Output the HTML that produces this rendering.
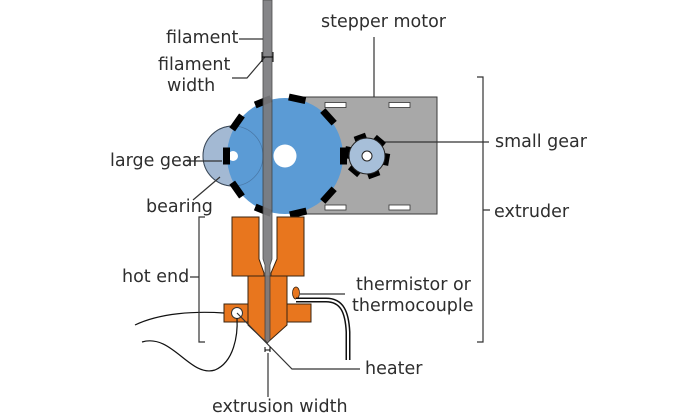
<!DOCTYPE html>
<html><head><meta charset="utf-8"><style>
html,body{margin:0;padding:0;background:#fff;}
svg{display:block;}
text{font-family:"DejaVu Sans","Liberation Sans",sans-serif;font-size:17.5px;fill:#2e2e2e;}
</style></head><body>
<svg width="700" height="420" viewBox="0 0 700 420" xmlns="http://www.w3.org/2000/svg">
<!-- motor -->
<rect x="300" y="97" width="137" height="117" fill="#a8a8a8" stroke="#3a3a3a" stroke-width="1"/>
<g fill="#fff" stroke="#333" stroke-width="0.8">
<rect x="325" y="102.5" width="21" height="5"/>
<rect x="389" y="102.5" width="21" height="5"/>
<rect x="325" y="205" width="21" height="5"/>
<rect x="389" y="205" width="21" height="5"/>
</g>
<!-- small gear -->
<g fill="#000">
<rect x="382" y="150" width="7.5" height="12" transform="rotate(-50 367 156)"/>
<rect x="382" y="150" width="7.5" height="12" transform="rotate(10 367 156)"/>
<rect x="382" y="150" width="7.5" height="12" transform="rotate(70 367 156)"/>
<rect x="382" y="150" width="7.5" height="12" transform="rotate(130 367 156)"/>
<rect x="382" y="150" width="7.5" height="12" transform="rotate(190 367 156)"/>
<rect x="382" y="150" width="7.5" height="12" transform="rotate(250 367 156)"/>
</g>
<circle cx="367" cy="156" r="18" fill="#a7bfd9" stroke="#222" stroke-width="1"/>
<circle cx="367" cy="156" r="5" fill="#fff" stroke="#222" stroke-width="1"/>
<!-- bearing -->
<circle cx="233" cy="156" r="30" fill="#a3b9d3" stroke="#333" stroke-width="1"/>
<!-- big gear -->
<circle cx="285" cy="156" r="58" fill="#5b9bd5"/>
<circle cx="233" cy="156" r="30" fill="none" stroke="#3d5f85" stroke-width="0.7" opacity="0.6"/>
<circle cx="285" cy="156" r="11.5" fill="#fff"/>
<circle cx="233" cy="156" r="5" fill="#fff"/>
<g fill="#000">
<rect x="340" y="147.5" width="7" height="17" transform="rotate(-112 285 156)"/>
<rect x="340" y="147.5" width="7" height="17" transform="rotate(-78 285 156)"/>
<rect x="340" y="147.5" width="7" height="17" transform="rotate(-42 285 156)"/>
<rect x="340" y="147.5" width="7" height="17" transform="rotate(0 285 156)"/>
<rect x="340" y="147.5" width="7" height="17" transform="rotate(42 285 156)"/>
<rect x="340" y="147.5" width="7" height="17" transform="rotate(77 285 156)"/>
<rect x="340" y="147.5" width="7" height="17" transform="rotate(112 285 156)"/>
<rect x="340" y="147.5" width="7" height="17" transform="rotate(145 285 156)"/>
<rect x="340" y="147.5" width="7" height="17" transform="rotate(180 285 156)"/>
<rect x="340" y="147.5" width="7" height="17" transform="rotate(215 285 156)"/>
</g>
<!-- hot end -->
<rect x="224" y="304" width="87" height="18" fill="#e8761e" stroke="#3a2410" stroke-width="1"/>
<circle cx="237" cy="313" r="5.5" fill="#fff" stroke="#333" stroke-width="1"/>
<polygon points="248,276 287,276 287,325 267,343 248,325" fill="#e8761e" stroke="#3a2410" stroke-width="1"/>
<polygon points="232,217 259,217 259,259 264,273 264,276 232,276" fill="#e8761e" stroke="#3a2410" stroke-width="1"/>
<polygon points="277,217 304,217 304,276 271,276 271,273 277,259" fill="#e8761e" stroke="#3a2410" stroke-width="1"/>
<ellipse cx="296" cy="293" rx="3.5" ry="6" fill="#e8761e" stroke="#3a2410" stroke-width="0.8"/>
<!-- filament rod -->
<path d="M263,0 V259 L265,265 V340 L267.5,343 L270,340 V265 L272,259 V0 Z" fill="#7b7b7e" stroke="#3c3c3c" stroke-width="0.8" opacity="0.92"/>
<!-- wires -->
<path d="M296,300 H326 C342,300 347,312 348,332 V360" fill="none" stroke="#111" stroke-width="5"/>
<path d="M296,300 H326 C342,300 347,312 348,332 V361" fill="none" stroke="#fff" stroke-width="2"/>
<g fill="none" stroke="#111" stroke-width="1.2">
<path d="M135,325 C160,313 195,311 224,313"/>
<path d="M142,342 C172,333 190,378 215,370 C234,362 238,335 237,318"/>
</g>
<!-- leaders -->
<g fill="none" stroke="#333" stroke-width="1.2">
<path d="M239,39 H263"/>
<path d="M232,78 H247 L265,57"/>
<path d="M374,37 V97"/>
<path d="M187,161 H222"/>
<path d="M193,200 L220,177"/>
<path d="M385,142 H489"/>
<path d="M477,77 H483 V342 H477 M483,210 H490"/>
<path d="M205,217 H199 V342 H205 M190,277 H199"/>
<path d="M300,294 H345"/>
<path d="M237,313 L292,369 H360"/>
<path d="M268,353 V397"/>
</g>
<g fill="none" stroke="#000" stroke-width="1">
<path d="M262,57 H273 M262,52 V62 M273,52 V62"/>
<path d="M265,350 H270 M265,347 V352 M270,347 V352"/>
</g>
<!-- labels -->
<text x="321" y="27">stepper motor</text>
<text x="166" y="43">filament</text>
<text x="158" y="70">filament</text>
<text x="167" y="91">width</text>
<text x="110" y="166">large gear</text>
<text x="146" y="212">bearing</text>
<text x="122" y="282">hot end</text>
<text x="495" y="147">small gear</text>
<text x="494" y="217">extruder</text>
<text x="356" y="290">thermistor or</text>
<text x="352" y="311">thermocouple</text>
<text x="365" y="374">heater</text>
<text x="212" y="412">extrusion width</text>
</svg>
</body></html>
